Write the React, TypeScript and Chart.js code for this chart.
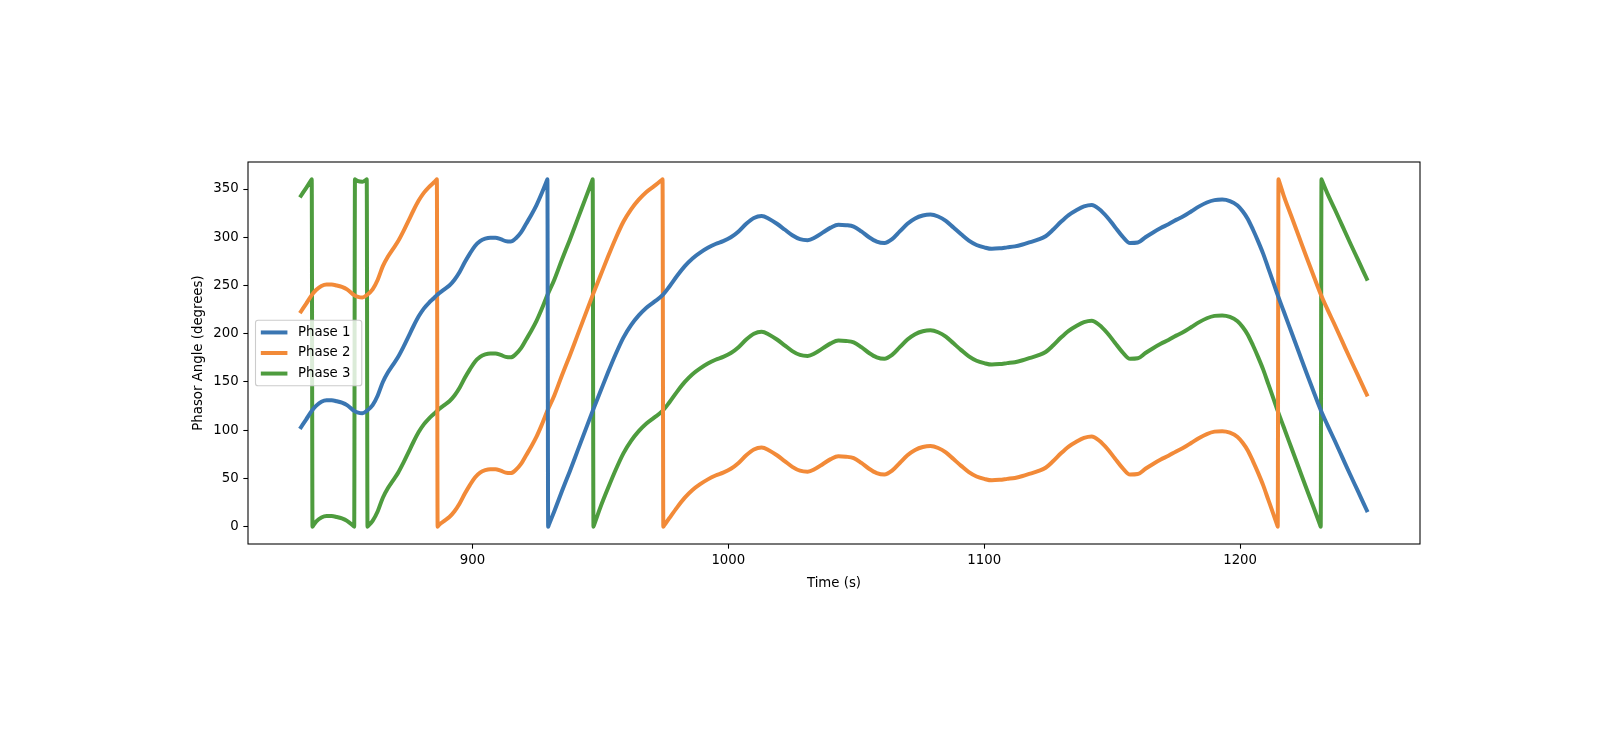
import React, { useEffect, useRef } from 'react';
import { Chart, registerables } from 'chart.js';

Chart.register(...registerables);

// ---------------- data ----------------
const seriesLabels = ['Phase 1', 'Phase 2', 'Phase 3'];
const seriesColors = ['#3a76b2', '#f28a38', '#4e9c3e'];

const xTicks = [900, 1000, 1100, 1200];
const yTicks = [0, 50, 100, 150, 200, 250, 300, 350];

const phase1Time = [
  833, 835, 837.2, 839, 841, 843, 845, 847, 849, 851,
  853.8, 855, 857, 858.7, 861, 863, 865, 867, 869, 871,
  873, 875, 877, 879, 881, 883, 885, 886.1, 887, 889,
  891, 893, 895, 897, 899, 901, 903, 905, 907, 909,
  911, 913, 915, 917, 919, 921, 923, 925, 927, 929.1, 929.3,
  929.6, 929.8, 932, 935, 938, 941, 944, 947, 950, 953, 956,
  959, 962, 965, 968, 971, 974.3, 977, 980, 983, 986,
  989, 992, 995, 998, 1001, 1004, 1007, 1010, 1013, 1016,
  1019, 1022, 1025, 1028, 1031, 1034, 1037, 1040, 1043, 1046,
  1049, 1052, 1055, 1058, 1061, 1064, 1067, 1070, 1073, 1076,
  1079, 1082, 1085, 1088, 1091, 1094, 1097, 1100, 1103, 1106,
  1109, 1112, 1115, 1118, 1121, 1124, 1127, 1130, 1133, 1136,
  1139, 1142, 1145, 1148, 1151, 1154, 1157, 1160, 1163, 1166,
  1169, 1172, 1175, 1178, 1181, 1184, 1187, 1190, 1193, 1196,
  1199, 1201, 1203, 1205, 1207, 1209, 1211, 1213, 1214.7, 1217,
  1220, 1223, 1226, 1229, 1231.5, 1234, 1237, 1240, 1243, 1246,
  1249.5,
];
const phase1Angle = [
  103, 111, 120, 125.5, 129.5, 131, 131, 130, 128.5, 126,
  120, 118.5, 117.5, 120, 126, 136, 150, 160, 168, 176,
  186, 197, 208, 218, 226, 232, 237, 240, 242, 246,
  250, 256, 264, 274, 283, 291, 296, 298.5, 299.5, 299.5,
  298, 296, 295.5, 299, 305, 314, 323, 333, 345, 358.7, 360,
  0, 1.4, 16, 37, 57, 78, 99, 120, 140, 160, 179,
  196, 209, 219, 227, 233, 240, 249, 260, 270, 278,
  284, 289, 293, 296, 300, 306, 314, 320, 322, 319,
  314, 308, 302, 298, 297, 300, 305, 310, 313, 312.5,
  311, 306, 300, 295.5, 294, 298, 306, 314, 319.5, 322.5,
  323.5, 321.5, 317, 310, 303, 296.5, 292, 289.5, 288, 288.5,
  289.5, 290.5, 292.5, 295, 297.5, 301, 308, 316, 323, 328,
  332, 333.5, 329, 321, 311, 301, 294, 294.5, 300, 305,
  309.5, 313.5, 318, 322, 327, 332, 336, 338.5, 339, 337.5,
  333, 327, 319, 308, 296, 283, 268, 253, 240, 223.5,
  202, 180.5, 159, 138, 121, 106, 89, 71.5, 54, 37,
  17,
];

const phase2Time = [
  833, 835, 837.2, 839, 841, 843, 845, 847, 849, 851,
  853.8, 855, 857, 858.7, 861, 863, 865, 867, 869, 871,
  873, 875, 877, 879, 881, 883, 885, 885.9, 886.1, 886.4, 886.6, 887,
  889, 891, 893, 895, 897, 899, 901, 903, 905, 907,
  909, 911, 913, 915, 917, 919, 921, 923, 925, 927,
  929.3, 932, 935, 938, 941, 944, 947, 950, 953, 956,
  959, 962, 965, 968, 971, 974.1, 974.3, 974.6, 974.8, 977, 980, 983,
  986, 989, 992, 995, 998, 1001, 1004, 1007, 1010, 1013,
  1016, 1019, 1022, 1025, 1028, 1031, 1034, 1037, 1040, 1043,
  1046, 1049, 1052, 1055, 1058, 1061, 1064, 1067, 1070, 1073,
  1076, 1079, 1082, 1085, 1088, 1091, 1094, 1097, 1100, 1103,
  1106, 1109, 1112, 1115, 1118, 1121, 1124, 1127, 1130, 1133,
  1136, 1139, 1142, 1145, 1148, 1151, 1154, 1157, 1160, 1163,
  1166, 1169, 1172, 1175, 1178, 1181, 1184, 1187, 1190, 1193,
  1196, 1199, 1201, 1203, 1205, 1207, 1209, 1211, 1213, 1214.5, 1214.7,
  1215, 1215.2, 1217, 1220, 1223, 1226, 1229, 1231.5, 1234, 1237, 1240,
  1243, 1246, 1249.5,
];
const phase2Angle = [
  223, 231, 240, 245.5, 249.5, 251, 251, 250, 248.5, 246,
  240, 238.5, 237.5, 240, 246, 256, 270, 280, 288, 296,
  306, 317, 328, 338, 346, 352, 357, 359.5, 360, 0, 0.7, 2,
  6, 10, 16, 24, 34, 43, 51, 56, 58.5, 59.5,
  59.5, 58, 56, 55.5, 59, 65, 74, 83, 93, 105,
  120, 136, 157, 177, 198, 219, 240, 260, 280, 299,
  316, 329, 339, 347, 353, 359.6, 360, 0, 0.75, 9, 20, 30,
  38, 44, 49, 53, 56, 60, 66, 74, 80, 82,
  79, 74, 68, 62, 58, 57, 60, 65, 70, 73,
  72.5, 71, 66, 60, 55.5, 54, 58, 66, 74, 79.5,
  82.5, 83.5, 81.5, 77, 70, 63, 56.5, 52, 49.5, 48,
  48.5, 49.5, 50.5, 52.5, 55, 57.5, 61, 68, 76, 83,
  88, 92, 93.5, 89, 81, 71, 61, 54, 54.5, 60,
  65, 69.5, 73.5, 78, 82, 87, 92, 96, 98.5, 99,
  97.5, 93, 87, 79, 68, 56, 43, 28, 13, 1.5, 0,
  360, 358.4, 343.5, 322, 300.5, 279, 258, 241, 226, 209, 191.5,
  174, 157, 137,
];

const phase3Time = [
  833, 835, 837.0, 837.2, 837.5, 837.7, 839, 841, 843, 845, 847, 849,
  851, 853.6, 853.8, 854.1, 854.3, 855, 857, 858.5, 858.7, 859, 859.2, 861, 863, 865,
  867, 869, 871, 873, 875, 877, 879, 881, 883, 885,
  887, 889, 891, 893, 895, 897, 899, 901, 903, 905,
  907, 909, 911, 913, 915, 917, 919, 921, 923, 925,
  927, 929.3, 932, 935, 938, 941, 944, 946.8, 947, 947.3, 947.5, 950,
  953, 956, 959, 962, 965, 968, 971, 974.3, 977, 980,
  983, 986, 989, 992, 995, 998, 1001, 1004, 1007, 1010,
  1013, 1016, 1019, 1022, 1025, 1028, 1031, 1034, 1037, 1040,
  1043, 1046, 1049, 1052, 1055, 1058, 1061, 1064, 1067, 1070,
  1073, 1076, 1079, 1082, 1085, 1088, 1091, 1094, 1097, 1100,
  1103, 1106, 1109, 1112, 1115, 1118, 1121, 1124, 1127, 1130,
  1133, 1136, 1139, 1142, 1145, 1148, 1151, 1154, 1157, 1160,
  1163, 1166, 1169, 1172, 1175, 1178, 1181, 1184, 1187, 1190,
  1193, 1196, 1199, 1201, 1203, 1205, 1207, 1209, 1211, 1213,
  1214.7, 1217, 1220, 1223, 1226, 1229, 1231.3, 1231.5, 1231.8, 1232, 1234, 1237,
  1240, 1243, 1246, 1249.5,
];
const phase3Angle = [
  343, 351, 359.2, 360, 0, 0.7, 5.5, 9.5, 11, 11, 10, 8.5,
  6, 0.4, 0, 360, 359.7, 358.5, 357.5, 359.7, 360, 0, 0.5, 6, 16, 30,
  40, 48, 56, 66, 77, 88, 98, 106, 112, 117,
  122, 126, 130, 136, 144, 154, 163, 171, 176, 178.5,
  179.5, 179.5, 178, 176, 175.5, 179, 185, 194, 203, 213,
  225, 240, 256, 277, 297, 318, 339, 358.6, 360, 0, 1.4, 20,
  40, 59, 76, 89, 99, 107, 113, 120, 129, 140,
  150, 158, 164, 169, 173, 176, 180, 186, 194, 200,
  202, 199, 194, 188, 182, 178, 177, 180, 185, 190,
  193, 192.5, 191, 186, 180, 175.5, 174, 178, 186, 194,
  199.5, 202.5, 203.5, 201.5, 197, 190, 183, 176.5, 172, 169.5,
  168, 168.5, 169.5, 170.5, 172.5, 175, 177.5, 181, 188, 196,
  203, 208, 212, 213.5, 209, 201, 191, 181, 174, 174.5,
  180, 185, 189.5, 193.5, 198, 202, 207, 212, 216, 218.5,
  219, 217.5, 213, 207, 199, 188, 176, 163, 148, 133,
  120, 103.5, 82, 60.5, 39, 18, 1.4, 0, 360, 358.7, 346, 329,
  311.5, 294, 277, 257,
];

// axis limits (matplotlib auto-margins)
const xMin = 812.3;
const xMax = 1270.3;
const yMin = -18;
const yMax = 378;

// ---------------- styling ----------------
const FONT = '"DejaVu Sans", "Liberation Sans", sans-serif';
const FS = 13.3;
const W = 1598;
const H = 738;

const toPoints = (t: number[], a: number[]) => t.map((x, i) => ({ x, y: a[i] }));

const framePlugin = {
  id: 'axesFrame',
  afterDatasetsDraw(chart: any) {
    const { ctx, chartArea } = chart;
    ctx.save();
    ctx.strokeStyle = '#000';
    ctx.lineWidth = 1.07;
    ctx.strokeRect(chartArea.left, chartArea.top, chartArea.right - chartArea.left, chartArea.bottom - chartArea.top);
    ctx.restore();
  },
};

const legendPlugin = {
  id: 'mplLegend',
  afterDatasetsDraw(chart: any) {
    const { ctx, chartArea } = chart;
    const datasets = chart.data.datasets;
    ctx.save();
    ctx.font = `${FS}px ${FONT}`;
    const textW = Math.max(...datasets.map((d: any) => ctx.measureText(d.label).width));
    const borderPad = 0.4 * FS;
    const handleLen = 2 * FS;
    const handlePad = 0.8 * FS;
    const labelSpacing = 0.5 * FS;
    const rowH = 13.9;
    const n = datasets.length;
    const w = 2 * borderPad + handleLen + handlePad + textW + 6;
    const h = 2 * borderPad + n * rowH + (n - 1) * labelSpacing;
    const x0 = chartArea.left + 7.5;
    const y0 = (chartArea.top + chartArea.bottom) / 2 - h / 2;
    const r = 0.2 * FS;
    ctx.beginPath();
    ctx.moveTo(x0 + r, y0);
    ctx.lineTo(x0 + w - r, y0);
    ctx.arcTo(x0 + w, y0, x0 + w, y0 + r, r);
    ctx.lineTo(x0 + w, y0 + h - r);
    ctx.arcTo(x0 + w, y0 + h, x0 + w - r, y0 + h, r);
    ctx.lineTo(x0 + r, y0 + h);
    ctx.arcTo(x0, y0 + h, x0, y0 + h - r, r);
    ctx.lineTo(x0, y0 + r);
    ctx.arcTo(x0, y0, x0 + r, y0, r);
    ctx.closePath();
    ctx.fillStyle = 'rgba(255,255,255,0.8)';
    ctx.fill();
    ctx.strokeStyle = '#cccccc';
    ctx.lineWidth = 1.1;
    ctx.stroke();
    datasets.forEach((d: any, i: number) => {
      const cy = y0 + borderPad + i * (rowH + labelSpacing) + rowH / 2;
      const hx = x0 + borderPad;
      ctx.beginPath();
      ctx.moveTo(hx, cy);
      ctx.lineTo(hx + handleLen, cy);
      ctx.strokeStyle = d.borderColor;
      ctx.lineWidth = 4;
      ctx.lineCap = 'butt';
      ctx.stroke();
      ctx.fillStyle = '#000';
      ctx.textAlign = 'left';
      ctx.textBaseline = 'middle';
      ctx.fillText(d.label, hx + handleLen + handlePad, cy);
    });
    ctx.restore();
  },
};

export default function App() {
  const canvasRef = useRef<HTMLCanvasElement | null>(null);

  useEffect(() => {
    const canvas = canvasRef.current;
    if (!canvas) return;
    const times = [phase1Time, phase2Time, phase3Time];
    const angles = [phase1Angle, phase2Angle, phase3Angle];
    const chart = new Chart(canvas, {
      type: 'line',
      data: {
        datasets: seriesLabels.map((label, i) => ({
          label,
          data: toPoints(times[i], angles[i]),
          borderColor: seriesColors[i],
          backgroundColor: seriesColors[i],
          borderWidth: 4,
          pointRadius: 0,
          pointHoverRadius: 0,
          fill: false,
          cubicInterpolationMode: 'monotone',
          borderJoinStyle: 'round',
          borderCapStyle: 'square',
        })),
      },
      options: {
        responsive: false,
        animation: false,
        devicePixelRatio: 1,
        events: [],
        layout: { padding: { left: 0, top: 162, right: W - 1420, bottom: 0 } },
        plugins: {
          legend: { display: false },
          tooltip: { enabled: false },
        },
        scales: {
          x: {
            type: 'linear',
            min: xMin,
            max: xMax,
            afterBuildTicks: (scale: any) => {
              scale.ticks = xTicks.map((v) => ({ value: v }));
            },
            afterFit: (scale: any) => {
              scale.height = H - 544;
            },
            ticks: {
              autoSkip: false,
              maxRotation: 0,
              padding: 4.3,
              color: '#000',
              font: { family: FONT, size: FS },
              callback: (v: any) => String(v),
            },
            grid: {
              display: true,
              drawOnChartArea: false,
              drawTicks: true,
              tickLength: 4.67,
              tickWidth: 1.07,
              tickColor: '#000',
              color: '#000',
            },
            border: { display: false },
            title: {
              display: true,
              text: 'Time (s)',
              color: '#000',
              font: { family: FONT, size: FS },
              padding: { top: 0, bottom: 146.5 },
            },
          },
          y: {
            type: 'linear',
            min: yMin,
            max: yMax,
            afterBuildTicks: (scale: any) => {
              scale.ticks = yTicks.map((v) => ({ value: v }));
            },
            afterFit: (scale: any) => {
              scale.width = 248;
            },
            ticks: {
              autoSkip: false,
              padding: 4.67,
              color: '#000',
              font: { family: FONT, size: FS },
              callback: (v: any) => String(v),
            },
            grid: {
              display: true,
              drawOnChartArea: false,
              drawTicks: true,
              tickLength: 4.67,
              tickWidth: 1.07,
              tickColor: '#000',
              color: '#000',
            },
            border: { display: false },
            title: {
              display: true,
              text: 'Phasor Angle (degrees)',
              color: '#000',
              font: { family: FONT, size: FS },
              padding: { top: 191, bottom: 0 },
            },
          },
        },
      },
      plugins: [framePlugin, legendPlugin],
    } as any);
    return () => chart.destroy();
  }, []);

  return (
    <div style={{ position: 'absolute', left: 0, top: 0, width: W, height: H, background: '#fff', overflow: 'hidden' }}>
      <canvas ref={canvasRef} width={W} height={H} style={{ display: 'block', width: W, height: H }} />
    </div>
  );
}
